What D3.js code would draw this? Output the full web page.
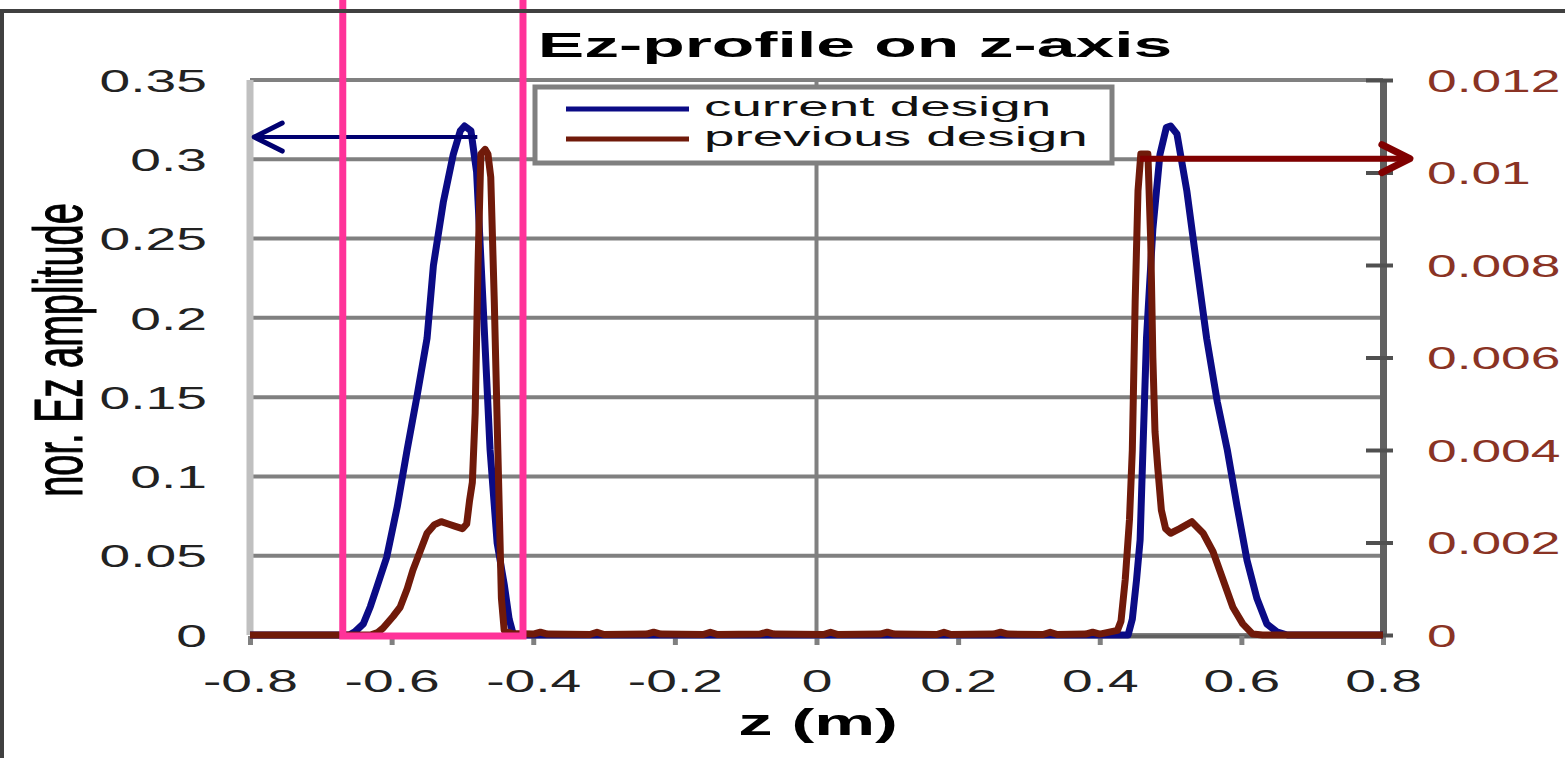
<!DOCTYPE html>
<html>
<head>
<meta charset="utf-8">
<script src="https://cdn.jsdelivr.net/npm/d3@7"></script>
<style>
  body { margin: 0; background: #fff; }
  svg { display: block; font-family: "Liberation Sans", Arial, sans-serif; }
</style>
</head>
<body>
<div id="chart"></div>
<script>
// current design : z (m) and normalised Ez, read on the left axis
const currentZ = [-0.8, -0.66, -0.652, -0.640, -0.630, -0.621, -0.607, -0.592, -0.578, -0.564, -0.550,
  -0.541, -0.527, -0.513, -0.503, -0.497, -0.488, -0.480, -0.471, -0.461, -0.451, -0.441, -0.434, -0.428,
  0.440, 0.446, 0.452, 0.457, 0.461, 0.466, 0.475, 0.485, 0.494, 0.500, 0.509, 0.523, 0.537, 0.551,
  0.566, 0.580, 0.594, 0.608, 0.622, 0.636, 0.650, 0.665, 0.8];
const currentEz = [0, 0, 0.002, 0.007, 0.018, 0.030, 0.049, 0.081, 0.117, 0.151, 0.187,
  0.233, 0.273, 0.303, 0.318, 0.321, 0.318, 0.292, 0.210, 0.117, 0.058, 0.032, 0.010, 0,
  0, 0.010, 0.035, 0.060, 0.117, 0.187, 0.256, 0.303, 0.320, 0.321, 0.316, 0.280, 0.233, 0.187,
  0.147, 0.117, 0.081, 0.047, 0.023, 0.007, 0.002, 0, 0];

// previous design : z (m) and Ez, read on the right axis
const previousZ = [-0.8, -0.63, -0.62, -0.612, -0.598, -0.588, -0.578, -0.570, -0.560, -0.550, -0.540,
  -0.530, -0.520, -0.510, -0.500, -0.494, -0.490, -0.486, -0.482, -0.478, -0.474, -0.468, -0.464, -0.460,
  -0.455, -0.450, -0.445, -0.441, -0.43, -0.40, -0.39, -0.38, -0.32, -0.31, -0.30, -0.24, -0.23, -0.22,
  -0.16, -0.15, -0.14, -0.08, -0.07, -0.06, 0.01, 0.02, 0.03, 0.09, 0.10, 0.11, 0.17, 0.18, 0.19,
  0.25, 0.26, 0.27, 0.32, 0.33, 0.34, 0.38, 0.39, 0.40, 0.425, 0.430, 0.436, 0.442, 0.446, 0.450,
  0.454, 0.458, 0.468, 0.472, 0.475, 0.478, 0.482, 0.487, 0.493, 0.500, 0.513, 0.530, 0.546, 0.560,
  0.574, 0.588, 0.602, 0.616, 0.63, 0.8];
const previousEz = [0, 0, 0.00005, 0.00015, 0.0004, 0.0006, 0.001, 0.0014, 0.0018, 0.0022, 0.00238,
  0.00245, 0.0024, 0.00235, 0.0023, 0.0024, 0.0029, 0.0033, 0.0048, 0.0080, 0.0104, 0.0105, 0.0104, 0.0099,
  0.0072, 0.0040, 0.0008, 0.0001, 0.00003, 0.00002, 0.00006, 0.00002, 0.00001, 0.00006, 0.00001, 0.00002, 0.00006, 0.00002,
  0.00001, 0.00006, 0.00001, 0.00002, 0.00006, 0.00002, 0.00001, 0.00006, 0.00001, 0.00002, 0.00006, 0.00002,
  0.00001, 0.00006, 0.00001, 0.00002, 0.00006, 0.00002, 0.00001, 0.00006, 0.00001, 0.00002, 0.00006, 0.00002,
  0.0001, 0.0003, 0.0012, 0.0025, 0.0040, 0.0072,
  0.0096, 0.0104, 0.0104, 0.0085, 0.0060, 0.0044, 0.0036, 0.0027, 0.0023, 0.0022, 0.0023, 0.00245, 0.0022, 0.0018,
  0.0012, 0.0006, 0.00024, 0.00002, 0, 0];

const xTicks = [-0.8, -0.6, -0.4, -0.2, 0, 0.2, 0.4, 0.6, 0.8];
const xTickLabels = ["-0.8", "-0.6", "-0.4", "-0.2", "0", "0.2", "0.4", "0.6", "0.8"];
const leftTicks = [0, 0.05, 0.1, 0.15, 0.2, 0.25, 0.3, 0.35];
const leftTickLabels = ["0", "0.05", "0.1", "0.15", "0.2", "0.25", "0.3", "0.35"];
const rightTicks = [0, 0.002, 0.004, 0.006, 0.008, 0.01, 0.012];
const rightTickLabels = ["0", "0.002", "0.004", "0.006", "0.008", "0.01", "0.012"];

// annotations: arrows to the peak levels and the marked region
const currentArrow = { from: -0.479, to: -0.794, level: 0.314 };
const previousArrow = { from: 0.457, to: 0.838, level: 0.0103 };
const markedRegion = [-0.669, -0.4145];

const width = 1565, height = 758;
const SX = 1.78; // the picture is stretched sideways, text too

const svg = d3.select("#chart").append("svg")
  .attr("width", width)
  .attr("height", height);

const x = d3.scaleLinear().domain([-0.8, 0.8]).range([250, 1383]);
const yL = d3.scaleLinear().domain([0, 0.35]).range([635, 80]);
const yR = d3.scaleLinear().domain([0, 0.012]).range([635, 80]);

// horizontal grid
svg.append("g")
  .selectAll("line")
  .data(leftTicks)
  .join("line")
    .attr("x1", x(-0.8)).attr("x2", x(0.8))
    .attr("y1", d => yL(d)).attr("y2", d => yL(d))
    .attr("stroke", "#808080")
    .attr("stroke-width", 4);

// vertical line at z = 0
svg.append("line")
  .attr("x1", x(0)).attr("x2", x(0))
  .attr("y1", yL(0.35)).attr("y2", yL(0))
  .attr("stroke", "#808080")
  .attr("stroke-width", 4);

// left axis line
svg.append("line")
  .attr("x1", x(-0.8)).attr("x2", x(-0.8))
  .attr("y1", yL(0.35)).attr("y2", yL(0))
  .attr("stroke", "#c0c0c0")
  .attr("stroke-width", 7);

// bottom axis
const gx = svg.append("g")
  .attr("transform", "translate(0," + (yL(0) + 1) + ")")
  .call(d3.axisBottom(x).tickValues(xTicks).tickFormat((d, i) => xTickLabels[i]).tickSize(9).tickSizeOuter(0));
gx.select(".domain").attr("stroke", "#606060").attr("stroke-width", 4);
gx.selectAll(".tick line").attr("stroke", "#808080").attr("stroke-width", 5);
gx.selectAll(".tick text")
  .attr("y", null).attr("dy", null)
  .attr("transform", "translate(0,56) scale(" + SX + ",1)")
  .attr("font-size", 31)
  .attr("fill", "#222");

// left axis labels
const gyl = svg.append("g")
  .attr("transform", "translate(" + x(-0.8) + ",0)")
  .call(d3.axisLeft(yL).tickValues(leftTicks).tickFormat((d, i) => leftTickLabels[i]).tickSize(0));
gyl.select(".domain").remove();
gyl.selectAll(".tick text")
  .attr("x", null).attr("dy", "0.36em")
  .attr("transform", "translate(-43,0) scale(" + SX + ",1)")
  .attr("font-size", 31)
  .attr("fill", "#222");

// right axis
const gyr = svg.append("g")
  .attr("transform", "translate(" + x(0.8) + ",0)")
  .call(d3.axisRight(yR).tickValues(rightTicks).tickFormat((d, i) => rightTickLabels[i]).tickSize(10).tickSizeOuter(0));
gyr.select(".domain").attr("stroke", "#606060").attr("stroke-width", 7);
gyr.selectAll(".tick line").attr("x1", -17).attr("x2", 10).attr("stroke", "#505050").attr("stroke-width", 4);
gyr.selectAll(".tick text")
  .attr("x", null).attr("dy", "0.36em")
  .attr("transform", "translate(44,0) scale(1.72,1)")
  .attr("font-size", 31)
  .attr("fill", "#8a3324");

// curves
const idx = n => d3.range(n);
svg.append("path")
  .attr("d", d3.line().x(i => x(currentZ[i])).y(i => yL(currentEz[i]))(idx(currentZ.length)))
  .attr("fill", "none")
  .attr("stroke", "#0b0b85")
  .attr("stroke-width", 7)
  .attr("stroke-linejoin", "round");

svg.append("path")
  .attr("d", d3.line().x(i => x(previousZ[i])).y(i => yR(previousEz[i]))(idx(previousZ.length)))
  .attr("fill", "none")
  .attr("stroke", "#701a0a")
  .attr("stroke-width", 7)
  .attr("stroke-linejoin", "round");

// legend
const legend = svg.append("g");
legend.append("rect")
  .attr("x", 535).attr("y", 87).attr("width", 577).attr("height", 76)
  .attr("fill", "#fff")
  .attr("stroke", "#808080")
  .attr("stroke-width", 5);
[["current design", "#0b0b85", 109], ["previous design", "#701a0a", 139]].forEach(([label, color, ly]) => {
  legend.append("line")
    .attr("x1", 566).attr("x2", 689)
    .attr("y1", ly).attr("y2", ly)
    .attr("stroke", color)
    .attr("stroke-width", 5);
  legend.append("text")
    .attr("transform", "translate(704," + (ly + 7) + ") scale(2.03,1)")
    .attr("font-size", 27)
    .attr("fill", "#111")
    .text(label);
});

// arrows
function arrow(a, yScale, color, w) {
  const y0 = yScale(a.level), x0 = x(a.from), x1 = x(a.to);
  const dir = x1 < x0 ? 1 : -1;
  svg.append("line")
    .attr("x1", x0).attr("x2", x1)
    .attr("y1", y0).attr("y2", y0)
    .attr("stroke", color)
    .attr("stroke-width", w);
  svg.append("path")
    .attr("d", "M" + (x1 + dir * 28) + "," + (y0 - 14) + "L" + x1 + "," + y0 + "L" + (x1 + dir * 28) + "," + (y0 + 14))
    .attr("fill", "none")
    .attr("stroke", color)
    .attr("stroke-width", w + 1)
    .attr("stroke-linecap", "round")
    .attr("stroke-linejoin", "round");
}
arrow(currentArrow, yL, "#000070", 4);
arrow(previousArrow, yR, "#800000", 6);

// pink box around the left peak
svg.append("rect")
  .attr("x", x(markedRegion[0]))
  .attr("y", -10)
  .attr("width", x(markedRegion[1]) - x(markedRegion[0]))
  .attr("height", yL(0) + 11)
  .attr("fill", "none")
  .attr("stroke", "#ff3399")
  .attr("stroke-width", 7);

// titles
svg.append("text")
  .attr("transform", "translate(855,57) scale(1.99,1)")
  .attr("text-anchor", "middle")
  .attr("font-size", 35)
  .attr("font-weight", "bold")
  .attr("fill", "#000")
  .text("Ez-profile on z-axis");

svg.append("text")
  .attr("transform", "translate(818,735) scale(1.85,1)")
  .attr("text-anchor", "middle")
  .attr("font-size", 37)
  .attr("font-weight", "bold")
  .attr("fill", "#000")
  .text("z (m)");

svg.append("text")
  .attr("transform", "translate(82,350) scale(1.8,1) rotate(-90)")
  .attr("text-anchor", "middle")
  .attr("font-size", 38)
  .attr("fill", "#000")
  .attr("stroke", "#000")
  .attr("stroke-width", 0.6)
  .text("nor. Ez amplitude");

// outer frame
svg.append("rect")
  .attr("x", 2).attr("y", 11)
  .attr("width", 1700).attr("height", 900)
  .attr("fill", "none")
  .attr("stroke", "#404040")
  .attr("stroke-width", 4);
</script>
</body>
</html>
